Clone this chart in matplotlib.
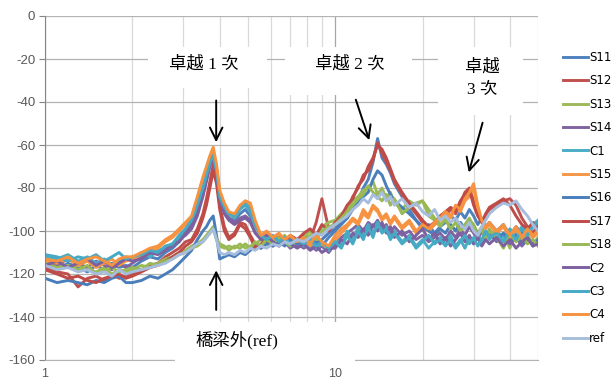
import matplotlib.pyplot as plt
from matplotlib.patches import Rectangle
from matplotlib.ticker import LogLocator, NullFormatter

plt.rcParams['axes.unicode_minus'] = False

# frequency (Hz)
freq = [1.0, 1.1, 1.2, 1.3, 1.4, 1.5, 1.6, 1.7, 1.8, 1.9,
        2.0, 2.15, 2.3, 2.45, 2.6, 2.75, 2.9, 3.05, 3.2, 3.35,
        3.5, 3.6, 3.7, 3.8, 3.9, 4.0, 4.15, 4.3, 4.5, 4.7,
        4.9, 5.1, 5.3, 5.55, 5.8, 6.1, 6.4, 6.7, 7.0, 7.4,
        7.8, 8.2, 8.6, 9.0, 9.5,
        10, 10.5, 11, 11.5, 12, 12.5, 13, 13.5, 14, 14.5,
        15, 15.5, 16, 17, 18, 19, 20, 21, 22, 23,
        24, 25, 26, 27, 28, 29, 30, 31, 32, 33,
        34, 36, 38, 40, 42, 44, 46, 48, 50]

S11 = [-116, -118, -115, -117, -119, -116, -118, -115, -117, -116,
       -117, -114, -112, -113, -110, -108, -105, -101, -98, -91,
       -81, -73, -68, -64, -72, -85, -90, -94, -95, -92,
       -90, -93, -99, -104, -102, -105, -103, -106, -104, -107,
       -105, -108, -104, -107, -103,
       -100, -97, -94, -89, -86, -80, -76, -68, -57, -66,
       -69, -73, -78, -84, -90, -95, -99, -97, -101, -98,
       -96, -93, -95, -91, -94, -90, -93, -97, -94, -98,
       -96, -100, -97, -102, -98, -101, -99, -103, -100]
S12 = [-117, -119, -120, -126, -122, -121, -123, -120, -122, -121,
       -120, -118, -116, -115, -112, -110, -108, -105, -104, -99,
       -92, -85, -77, -69, -75, -88, -98, -103, -101, -96,
       -97, -102, -106, -108, -105, -107, -104, -106, -103, -105,
       -102, -104, -96, -85, -99,
       -97, -94, -90, -84, -80, -74, -72, -67, -59, -64,
       -68, -72, -77, -83, -88, -92, -96, -99, -97, -94,
       -93, -90, -92, -87, -82, -80, -86, -91, -95, -93,
       -90, -88, -86, -85, -88, -94, -98, -101, -97]
S13 = [-113, -115, -117, -116, -118, -119, -117, -120, -118, -119,
       -118, -116, -117, -115, -113, -112, -110, -109, -107, -106,
       -104, -102, -100, -98, -103, -107, -108, -107, -108, -106,
       -108, -107, -106, -104, -106, -103, -105, -102, -106, -104,
       -103, -100, -104, -98, -96,
       -95, -92, -90, -86, -84, -81, -80, -77, -83, -80,
       -85, -82, -87, -90, -86, -88, -86, -93, -95, -98,
       -94, -97, -100, -96, -99, -95, -97, -101, -98, -103,
       -99, -104, -101, -108, -100, -104, -102, -106, -103]
S14 = [-114, -116, -113, -115, -117, -114, -116, -118, -115, -117,
       -115, -112, -111, -110, -108, -107, -104, -102, -99, -93,
       -84, -77, -70, -66, -73, -86, -91, -94, -96, -94,
       -93, -95, -100, -103, -106, -104, -107, -105, -108, -106,
       -108, -106, -109, -107, -110,
       -106, -103, -101, -99, -97, -100, -96, -98, -95, -99,
       -97, -101, -98, -102, -100, -104, -102, -105, -103, -101,
       -104, -100, -103, -99, -102, -98, -101, -104, -100, -103,
       -101, -105, -102, -106, -103, -107, -104, -106, -105]
C1 = [-112, -113, -111, -114, -112, -115, -113, -116, -114, -112,
      -113, -110, -112, -109, -108, -106, -103, -100, -96, -90,
      -82, -75, -69, -64, -71, -84, -90, -92, -94, -90,
      -88, -91, -98, -103, -101, -104, -106, -103, -107, -105,
      -107, -105, -108, -106, -109,
      -103, -107, -100, -104, -98, -102, -97, -101, -96, -100,
      -98, -103, -100, -105, -102, -107, -104, -108, -105, -103,
      -106, -102, -107, -104, -108, -103, -106, -102, -105, -101,
      -104, -100, -103, -99, -102, -98, -101, -97, -95]
S15 = [-114, -115, -113, -116, -114, -117, -115, -113, -116, -114,
       -113, -111, -109, -108, -105, -103, -100, -97, -94, -86,
       -77, -72, -66, -63, -70, -82, -88, -92, -93, -89,
       -86, -88, -97, -103, -101, -104, -102, -105, -103, -106,
       -104, -107, -103, -106, -108,
       -104, -101, -98, -95, -97, -92, -94, -89, -91, -95,
       -93, -97, -94, -99, -96, -101, -98, -100, -97, -95,
       -92, -94, -89, -91, -86, -84, -80, -90, -96, -99,
       -97, -101, -98, -103, -99, -104, -100, -103, -101]
S16 = [-122, -124, -123, -124, -125, -123, -124, -122, -121, -124,
       -124, -123, -121, -122, -120, -118, -115, -112, -109, -104,
       -100, -98, -95, -93, -102, -113, -112, -111, -112, -110,
       -111, -109, -107, -108, -106, -107, -105, -107, -104, -106,
       -105, -103, -106, -104, -101,
       -99, -96, -94, -90, -87, -84, -82, -76, -72, -74,
       -79, -83, -86, -89, -92, -95, -98, -100, -102, -99,
       -101, -97, -100, -96, -99, -95, -98, -102, -99, -103,
       -100, -104, -101, -105, -102, -106, -103, -107, -104]
S17 = [-118, -120, -122, -121, -123, -124, -122, -121, -120, -122,
       -121, -119, -117, -116, -114, -112, -110, -107, -105, -101,
       -94, -88, -80, -72, -78, -90, -100, -104, -102, -97,
       -99, -103, -108, -106, -104, -106, -103, -105, -102, -104,
       -101, -99, -102, -97, -100,
       -96, -93, -88, -85, -79, -76, -70, -66, -60, -62,
       -66, -71, -76, -82, -87, -91, -95, -98, -96, -93,
       -91, -89, -91, -86, -83, -81, -88, -93, -96, -92,
       -89, -87, -85, -88, -93, -97, -99, -96, -100]
S18 = [-115, -117, -116, -118, -116, -120, -118, -117, -119, -118,
       -117, -118, -115, -116, -114, -113, -111, -110, -108, -107,
       -105, -103, -101, -99, -104, -106, -107, -109, -107, -108,
       -106, -108, -105, -107, -104, -106, -103, -105, -107, -104,
       -105, -102, -104, -100, -98,
       -97, -94, -91, -88, -85, -83, -79, -82, -84, -86,
       -83, -88, -85, -92, -89, -87, -86, -90, -94, -97,
       -95, -99, -96, -100, -97, -94, -98, -102, -99, -104,
       -100, -103, -108, -101, -105, -102, -106, -104, -107]
C2 = [-116, -114, -117, -115, -113, -116, -114, -117, -115, -113,
      -114, -113, -110, -111, -109, -106, -105, -101, -97, -92,
      -83, -76, -69, -65, -72, -85, -92, -95, -97, -95,
      -94, -96, -101, -104, -102, -105, -107, -104, -106, -108,
      -106, -109, -107, -110, -108,
      -108, -104, -106, -101, -103, -99, -102, -97, -100, -96,
      -101, -98, -103, -100, -105, -102, -99, -104, -101, -106,
      -103, -107, -104, -101, -105, -102, -106, -103, -107, -104,
      -106, -103, -107, -104, -108, -105, -103, -107, -106]
C3 = [-111, -112, -114, -112, -113, -111, -114, -112, -110, -113,
      -112, -111, -109, -110, -107, -106, -102, -99, -95, -88,
      -80, -74, -68, -65, -72, -84, -89, -92, -93, -89,
      -87, -90, -97, -102, -104, -102, -105, -103, -106, -104,
      -106, -104, -107, -105, -108,
      -105, -108, -102, -106, -100, -104, -98, -103, -96, -101,
      -99, -104, -101, -106, -103, -108, -105, -102, -106, -104,
      -107, -104, -108, -105, -102, -106, -103, -107, -104, -100,
      -103, -101, -105, -100, -104, -99, -102, -98, -96]
C4 = [-113, -114, -112, -115, -113, -112, -114, -116, -113, -112,
      -112, -110, -108, -107, -104, -102, -99, -96, -93, -84,
      -75, -70, -65, -61, -69, -81, -87, -91, -92, -88,
      -86, -87, -95, -102, -100, -103, -101, -104, -102, -105,
      -103, -106, -102, -105, -107,
      -102, -99, -97, -94, -96, -90, -93, -88, -90, -94,
      -92, -96, -93, -98, -95, -100, -97, -99, -96, -94,
      -91, -93, -88, -90, -85, -82, -78, -88, -95, -98,
      -96, -100, -97, -102, -98, -103, -99, -102, -100]
ref = [-116, -118, -117, -119, -118, -120, -119, -121, -118, -120,
       -119, -118, -117, -116, -115, -113, -111, -110, -108, -106,
       -105, -103, -101, -99, -104, -110, -111, -110, -111, -109,
       -110, -108, -109, -107, -108, -106, -107, -105, -106, -104,
       -105, -103, -101, -102, -99,
       -97, -95, -93, -90, -88, -85, -87, -83, -85, -82,
       -86, -84, -88, -85, -89, -87, -91, -93, -90, -95,
       -93, -96, -94, -97, -99, -96, -100, -102, -98, -95,
       -92, -89, -87, -88, -86, -90, -93, -97, -100]

names = ['S11', 'S12', 'S13', 'S14', 'C1', 'S15', 'S16', 'S17', 'S18', 'C2', 'C3', 'C4', 'ref']
series = [S11, S12, S13, S14, C1, S15, S16, S17, S18, C2, C3, C4, ref]
colors = ['#4F81BD', '#C0504D', '#9BBB59', '#8064A2', '#4BACC6', '#F79646',
          '#4A7EBB', '#BE4B48', '#98B954', '#7D60A0', '#46AAC5', '#F69240', '#A7BDDD']

fig = plt.figure(figsize=(6.14, 3.81), dpi=100)
ax = fig.add_axes([45 / 614, 21 / 381, 493 / 614, 344 / 381])

for name, vals, c in zip(names, series, colors):
    ax.plot(freq, vals, color=c, lw=2.1, label=name)

ax.set_xscale('log')
ax.set_xlim(1, 50)
ax.set_ylim(-160, 0)
ax.set_yticks(range(-160, 1, 20))
ax.set_xticks([1, 10])
ax.set_xticklabels(['1', '10'])
ax.xaxis.set_minor_locator(LogLocator(base=10, subs=range(2, 10)))
ax.xaxis.set_minor_formatter(NullFormatter())

ax.grid(axis='y', color='#B3B3B3', lw=0.9)
ax.grid(axis='x', which='major', color='#A6A6A6', lw=0.9)
ax.grid(axis='x', which='minor', color='#D9D9D9', lw=0.9)
ax.set_axisbelow(True)
for s in ['top', 'right']:
    ax.spines[s].set_visible(False)
ax.spines['left'].set_color('#868686')
ax.spines['bottom'].set_color('#B3B3B3')
ax.tick_params(axis='y', length=4, color='#868686', labelcolor='#595959', labelsize=9.5, pad=3)
ax.tick_params(axis='x', which='both', length=0, labelcolor='#595959', labelsize=9, pad=6)
for lbl in ax.get_xticklabels() + ax.get_yticklabels():
    lbl.set_fontfamily('Liberation Sans')

ax.legend(loc='upper left', bbox_to_anchor=(563 / 614, 1 - 51 / 381), bbox_transform=fig.transFigure,
          frameon=False, fontsize=8.5, handlelength=2.1, handletextpad=0.1,
          labelspacing=0.88, borderpad=0, borderaxespad=0)

# white boxes behind the notes (figure pixels: left, top, right, bottom)
for x0, y0, x1, y1 in [(148, 47, 267, 88), (285, 47, 412, 95), (438, 47, 523, 115), (175, 322, 355, 362)]:
    ax.add_patch(Rectangle((x0 / 614, 1 - y1 / 381), (x1 - x0) / 614, (y1 - y0) / 381,
                           transform=fig.transFigure, fc='white', ec='none', zorder=3, clip_on=False))

cjk = ['Liberation Serif', 'Noto Sans CJK TC']
ax.text(3.54, -22.3, '卓越 1 次', family=cjk, fontsize=12.5, ha='center', va='center', zorder=5)
ax.text(11.2, -22.3, '卓越 2 次', family=cjk, fontsize=12.5, ha='center', va='center', zorder=5)
ax.text(32.1, -29, '卓越\n3 次', family=cjk, fontsize=12.5, ha='center', va='center',
        linespacing=1.5, zorder=5)
ax.text(4.59, -150.7, '橋梁外(ref)', family=cjk, fontsize=12.5, ha='center', va='center', zorder=5)

arrow = dict(arrowstyle='->,head_length=0.9,head_width=0.45', color='black', lw=1.4)
ax.annotate('', xy=(3.89, -60), xytext=(3.89, -38), arrowprops=arrow, zorder=6)
ax.annotate('', xy=(3.89, -117), xytext=(3.89, -138), arrowprops=arrow, zorder=6)
ax.annotate('', xy=(13.2, -59), xytext=(11.7, -37.7), arrowprops=arrow, zorder=6)
ax.annotate('', xy=(28.7, -74), xytext=(32.4, -48.4), arrowprops=arrow, zorder=6)

plt.savefig('out.png', dpi=100)
